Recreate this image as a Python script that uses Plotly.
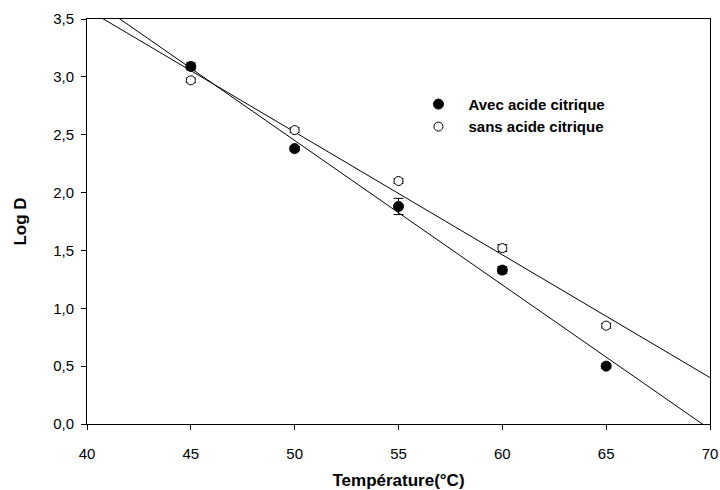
import plotly.graph_objects as go

temps = [45, 50, 55, 60, 65]
avec = [3.09, 2.38, 1.88, 1.33, 0.50]
avec_err = [0.03, 0.02, 0.07, 0.03, 0.02]
sans = [2.97, 2.54, 2.10, 1.52, 0.85]
sans_err = [0.02, 0.02, 0.02, 0.03, 0.02]

# regression lines (intercept, slope)
fit_avec = (8.690, -0.1248)
fit_sans = (7.828, -0.1061)
x_line = [40, 70]

font_family = "Liberation Sans, Arial, sans-serif"

fig = go.Figure()

for (a, b) in (fit_avec, fit_sans):
    fig.add_trace(go.Scatter(
        x=x_line, y=[a + b * x for x in x_line], mode="lines",
        line=dict(color="black", width=1), showlegend=False, hoverinfo="skip"))

fig.add_trace(go.Scatter(
    x=temps, y=avec, mode="markers", name="<b>Avec acide citrique</b>",
    marker=dict(symbol="circle", size=10, color="black", line=dict(color="black", width=1)),
    error_y=dict(type="data", array=avec_err, color="black", thickness=1, width=5)))

fig.add_trace(go.Scatter(
    x=temps, y=sans, mode="markers", name="<b>sans acide citrique</b>",
    marker=dict(symbol="circle", size=9, color="white", line=dict(color="black", width=1)),
    error_y=dict(type="data", array=sans_err, color="black", thickness=1, width=5)))

fig.update_layout(
    width=720, height=490,
    margin=dict(l=87, r=10, t=19, b=66),
    paper_bgcolor="white", plot_bgcolor="white",
    separators=", ",
    font=dict(family=font_family, color="black", size=15),
    legend=dict(x=0.516, y=0.83, xanchor="left", yanchor="top",
                bgcolor="rgba(0,0,0,0)", font=dict(size=15, family=font_family),
                tracegroupgap=0, itemwidth=50),
    xaxis=dict(range=[40, 70], tickvals=[40, 45, 50, 55, 60, 65, 70],
               showgrid=False, zeroline=False, showline=True, linecolor="black",
               linewidth=1, mirror=True, ticks="outside", ticklen=5, tickcolor="black",
               tickfont=dict(size=15), ticklabelstandoff=11, automargin=False,
               title=dict(text="<b>Température(°C)</b>", font=dict(size=17), standoff=14)),
    yaxis=dict(range=[0, 3.5], tickvals=[0, 0.5, 1, 1.5, 2, 2.5, 3, 3.5], tickformat=".1f",
               showgrid=False, zeroline=False, showline=True, linecolor="black",
               linewidth=1, mirror=True, ticks="outside", ticklen=5, tickcolor="black",
               tickfont=dict(size=15), ticklabelstandoff=4, automargin=False,
               title=dict(text="<b>Log D</b>", font=dict(size=17), standoff=22)),
)

fig.write_html("out.html")
